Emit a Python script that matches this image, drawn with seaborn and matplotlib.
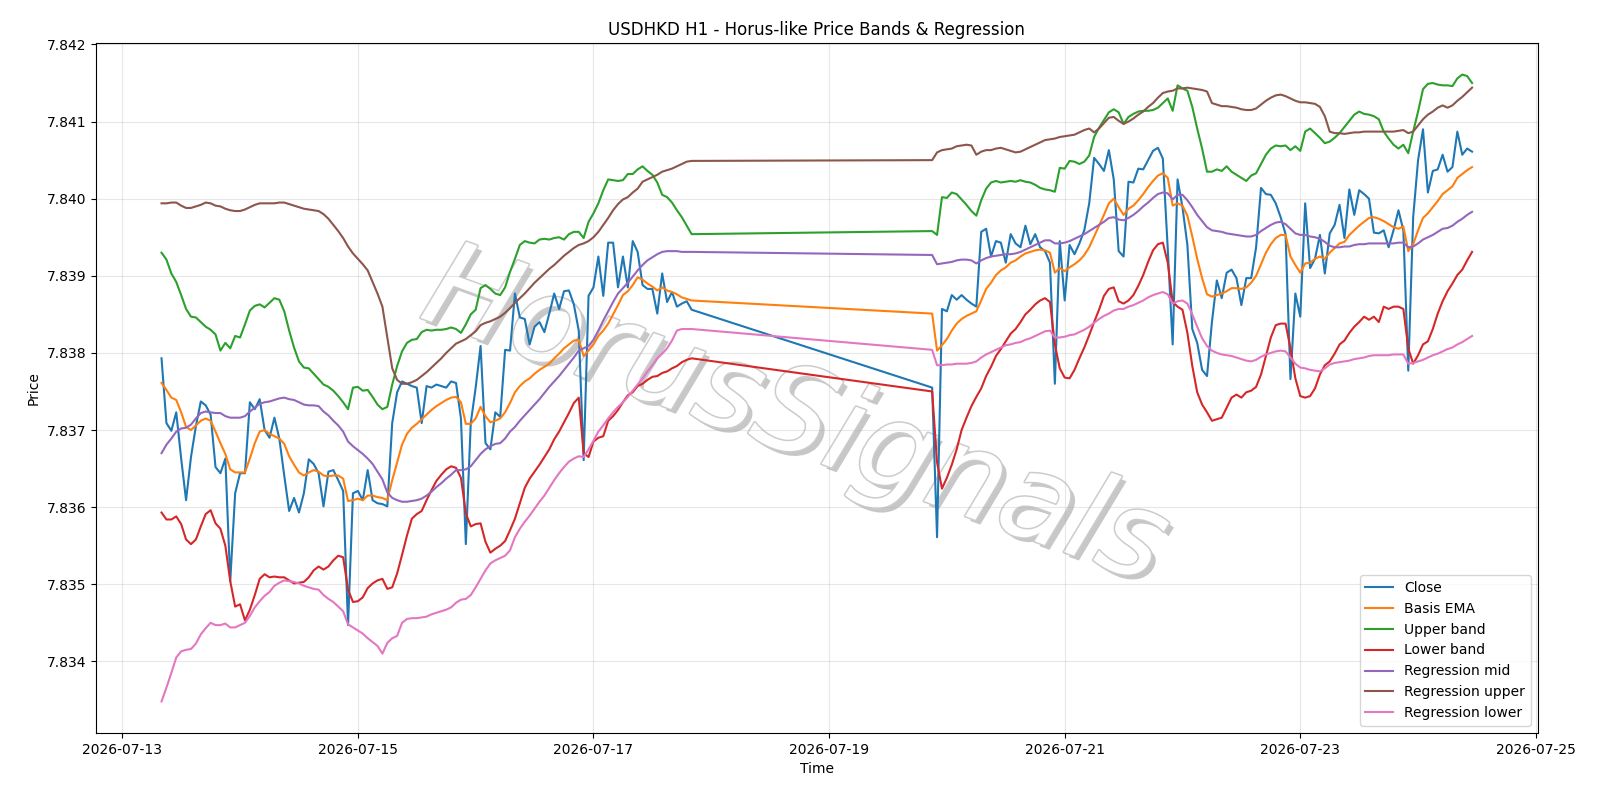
import numpy as np
import pandas as pd
import matplotlib
matplotlib.use("Agg")
import matplotlib.pyplot as plt
import matplotlib.dates as mdates
import matplotlib.ticker as mticker
import matplotlib.patheffects as pe
import seaborn as sns

# ---- data (hourly, two trading weeks) ----
week1_start = "2026-07-13 08:00"
week2_start = "2026-07-19 21:00"

close_w1 = [
    7.83793, 7.83709, 7.83699, 7.83723, 7.83663, 7.83609, 7.83665, 7.83705, 7.83737, 7.83732,
    7.83720, 7.83652, 7.83644, 7.83663, 7.83504, 7.83618, 7.83644, 7.83644, 7.83736, 7.83727,
    7.83740, 7.83700, 7.83690, 7.83716, 7.83689, 7.83641, 7.83595, 7.83612, 7.83593, 7.83618,
    7.83662, 7.83656, 7.83644, 7.83601, 7.83646, 7.83648, 7.83635, 7.83621, 7.83447, 7.83618,
    7.83621, 7.83609, 7.83648, 7.83609, 7.83605, 7.83604, 7.83601, 7.83709, 7.83749, 7.83763,
    7.83760, 7.83757, 7.83755, 7.83709, 7.83757, 7.83755, 7.83759, 7.83757, 7.83755, 7.83763,
    7.83761, 7.83715, 7.83552, 7.83709, 7.83755, 7.83809, 7.83683, 7.83675, 7.83723, 7.83717,
    7.83804, 7.83803, 7.83877, 7.83846, 7.83844, 7.83811, 7.83834, 7.83840, 7.83827, 7.83851,
    7.83877, 7.83857, 7.83880, 7.83881, 7.83863, 7.83829, 7.83661, 7.83874, 7.83885, 7.83925,
    7.83874, 7.83943, 7.83943, 7.83885, 7.83925, 7.83885, 7.83945, 7.83931, 7.83888, 7.83883,
    7.83883, 7.83851, 7.83903, 7.83866, 7.83879, 7.83860, 7.83864, 7.83867, 7.83856]
close_w2 = [
    7.83755, 7.83561, 7.83857, 7.83854, 7.83875, 7.83869, 7.83875, 7.83869, 7.83864, 7.83860,
    7.83957, 7.83961, 7.83925, 7.83945, 7.83943, 7.83917, 7.83954, 7.83942, 7.83937, 7.83965,
    7.83941, 7.83954, 7.83937, 7.83932, 7.83917, 7.83760, 7.83945, 7.83868, 7.83940, 7.83928,
    7.83942, 7.83959, 7.83994, 7.84053, 7.84045, 7.84036, 7.84063, 7.84025, 7.83932, 7.83925,
    7.84022, 7.84021, 7.84039, 7.84038, 7.84050, 7.84062, 7.84066, 7.84052, 7.83935, 7.83811,
    7.84025, 7.83989, 7.83940, 7.83831, 7.83813, 7.83778, 7.83770, 7.83840, 7.83894, 7.83871,
    7.83904, 7.83908, 7.83897, 7.83862, 7.83897, 7.83897, 7.83937, 7.84014, 7.84006, 7.84005,
    7.83994, 7.83976, 7.83954, 7.83766, 7.83877, 7.83847, 7.83994, 7.83910, 7.83922, 7.83953,
    7.83903, 7.83955, 7.83966, 7.83992, 7.83949, 7.84012, 7.83979, 7.84011, 7.84006, 7.84000,
    7.83956, 7.83955, 7.83959, 7.83937, 7.83959, 7.83985, 7.83959, 7.83777, 7.83976, 7.84050,
    7.84090, 7.84008, 7.84036, 7.84038, 7.84057, 7.84035, 7.84041, 7.84087, 7.84057, 7.84065, 7.84061]

basis_w1 = [
    7.83761, 7.83752, 7.83742, 7.83739, 7.83723, 7.83704, 7.83700, 7.83706, 7.83712, 7.83715,
    7.83712, 7.83698, 7.83683, 7.83669, 7.83649, 7.83645, 7.83645, 7.83645, 7.83663, 7.83683,
    7.83698, 7.83700, 7.83695, 7.83692, 7.83689, 7.83682, 7.83666, 7.83655, 7.83645, 7.83641,
    7.83645, 7.83648, 7.83646, 7.83641, 7.83640, 7.83641, 7.83641, 7.83637, 7.83608, 7.83609,
    7.83611, 7.83609, 7.83615, 7.83615, 7.83613, 7.83612, 7.83609, 7.83635, 7.83658, 7.83681,
    7.83695, 7.83703, 7.83708, 7.83714, 7.83720, 7.83726, 7.83731, 7.83735, 7.83739, 7.83742,
    7.83743, 7.83736, 7.83708, 7.83708, 7.83715, 7.83730, 7.83718, 7.83710, 7.83712, 7.83715,
    7.83723, 7.83735, 7.83749, 7.83757, 7.83763, 7.83767, 7.83773, 7.83778, 7.83782, 7.83786,
    7.83793, 7.83799, 7.83806, 7.83811, 7.83816, 7.83817, 7.83796, 7.83803, 7.83811, 7.83822,
    7.83829, 7.83838, 7.83850, 7.83862, 7.83875, 7.83880, 7.83888, 7.83898, 7.83895, 7.83890,
    7.83886, 7.83881, 7.83885, 7.83881, 7.83879, 7.83876, 7.83872, 7.83870, 7.83868]
basis_w2 = [
    7.83851, 7.83803, 7.83810, 7.83818, 7.83829, 7.83838, 7.83844, 7.83848, 7.83851, 7.83854,
    7.83868, 7.83883, 7.83891, 7.83901, 7.83907, 7.83911, 7.83917, 7.83920, 7.83925, 7.83929,
    7.83931, 7.83933, 7.83934, 7.83933, 7.83930, 7.83904, 7.83910, 7.83906, 7.83911, 7.83915,
    7.83920, 7.83927, 7.83937, 7.83951, 7.83965, 7.83979, 7.83994, 7.84000, 7.83989, 7.83979,
    7.83987, 7.83991, 7.83998, 7.84006, 7.84015, 7.84023, 7.84030, 7.84033, 7.84027, 7.83991,
    7.83994, 7.83991, 7.83978, 7.83951, 7.83922, 7.83897, 7.83876, 7.83873, 7.83875, 7.83877,
    7.83880, 7.83884, 7.83884, 7.83883, 7.83885, 7.83891, 7.83900, 7.83915, 7.83930, 7.83941,
    7.83949, 7.83953, 7.83953, 7.83925, 7.83914, 7.83904, 7.83916, 7.83917, 7.83922, 7.83925,
    7.83922, 7.83930, 7.83936, 7.83942, 7.83944, 7.83953, 7.83959, 7.83965, 7.83970, 7.83975,
    7.83976, 7.83974, 7.83971, 7.83967, 7.83963, 7.83961, 7.83964, 7.83932, 7.83941, 7.83959,
    7.83975, 7.83981, 7.83989, 7.83997, 7.84006, 7.84011, 7.84016, 7.84027, 7.84032, 7.84037, 7.84041]

upper_w1 = [
    7.83930, 7.83921, 7.83903, 7.83892, 7.83875, 7.83857, 7.83847, 7.83846, 7.83840, 7.83834,
    7.83830, 7.83824, 7.83803, 7.83813, 7.83806, 7.83822, 7.83820, 7.83837, 7.83855, 7.83861,
    7.83863, 7.83859, 7.83865, 7.83871, 7.83869, 7.83854, 7.83829, 7.83807, 7.83789, 7.83781,
    7.83780, 7.83773, 7.83766, 7.83759, 7.83756, 7.83751, 7.83744, 7.83736, 7.83727, 7.83755,
    7.83756, 7.83751, 7.83752, 7.83743, 7.83733, 7.83727, 7.83730, 7.83759, 7.83783, 7.83802,
    7.83813, 7.83817, 7.83818, 7.83827, 7.83830, 7.83829, 7.83830, 7.83830, 7.83831, 7.83833,
    7.83831, 7.83826, 7.83837, 7.83850, 7.83856, 7.83884, 7.83888, 7.83883, 7.83877, 7.83875,
    7.83885, 7.83905, 7.83922, 7.83940, 7.83945, 7.83943, 7.83942, 7.83947, 7.83948, 7.83947,
    7.83949, 7.83950, 7.83947, 7.83954, 7.83957, 7.83957, 7.83949, 7.83970, 7.83981, 7.83994,
    7.84011, 7.84025, 7.84024, 7.84023, 7.84024, 7.84032, 7.84032, 7.84038, 7.84042, 7.84036,
    7.84031, 7.84021, 7.84005, 7.84002, 7.83995, 7.83985, 7.83976, 7.83965, 7.83954]
upper_w2 = [
    7.83958, 7.83953, 7.84002, 7.84001, 7.84008, 7.84006, 7.83999, 7.83992, 7.83984, 7.83978,
    7.83998, 7.84013, 7.84021, 7.84023, 7.84021, 7.84022, 7.84023, 7.84022, 7.84024, 7.84022,
    7.84021, 7.84018, 7.84014, 7.84012, 7.84011, 7.84009, 7.84040, 7.84039, 7.84049, 7.84048,
    7.84045, 7.84048, 7.84056, 7.84080, 7.84092, 7.84102, 7.84112, 7.84116, 7.84112, 7.84097,
    7.84106, 7.84110, 7.84113, 7.84114, 7.84114, 7.84115, 7.84118, 7.84124, 7.84130, 7.84114,
    7.84147, 7.84143, 7.84140, 7.84119, 7.84091, 7.84065, 7.84035, 7.84035, 7.84038, 7.84036,
    7.84042, 7.84035, 7.84031, 7.84027, 7.84023, 7.84030, 7.84033, 7.84045, 7.84057, 7.84065,
    7.84069, 7.84068, 7.84069, 7.84063, 7.84068, 7.84062, 7.84087, 7.84091, 7.84085, 7.84079,
    7.84072, 7.84074, 7.84079, 7.84085, 7.84093, 7.84101, 7.84109, 7.84113, 7.84110, 7.84109,
    7.84107, 7.84103, 7.84087, 7.84078, 7.84070, 7.84065, 7.84070, 7.84059, 7.84087, 7.84113,
    7.84142, 7.84149, 7.84150, 7.84148, 7.84147, 7.84147, 7.84146, 7.84156, 7.84161, 7.84159, 7.84150]

lower_w1 = [
    7.83593, 7.83584, 7.83584, 7.83588, 7.83578, 7.83558, 7.83552, 7.83558, 7.83575, 7.83591,
    7.83596, 7.83579, 7.83572, 7.83550, 7.83504, 7.83471, 7.83474, 7.83453, 7.83467, 7.83486,
    7.83507, 7.83513, 7.83509, 7.83510, 7.83509, 7.83509, 7.83505, 7.83501, 7.83502, 7.83503,
    7.83509, 7.83518, 7.83523, 7.83519, 7.83523, 7.83531, 7.83537, 7.83535, 7.83493, 7.83477,
    7.83478, 7.83483, 7.83495, 7.83501, 7.83505, 7.83507, 7.83494, 7.83496, 7.83514, 7.83538,
    7.83563, 7.83585, 7.83591, 7.83595, 7.83609, 7.83622, 7.83634, 7.83642, 7.83649, 7.83653,
    7.83651, 7.83638, 7.83592, 7.83575, 7.83578, 7.83579, 7.83555, 7.83541, 7.83546, 7.83550,
    7.83556, 7.83570, 7.83585, 7.83605, 7.83625, 7.83637, 7.83646, 7.83655, 7.83665, 7.83675,
    7.83688, 7.83698, 7.83710, 7.83722, 7.83735, 7.83742, 7.83670, 7.83665, 7.83685, 7.83690,
    7.83692, 7.83712, 7.83718, 7.83726, 7.83736, 7.83745, 7.83749, 7.83757, 7.83760, 7.83765,
    7.83769, 7.83770, 7.83774, 7.83776, 7.83780, 7.83783, 7.83788, 7.83791, 7.83793]
lower_w2 = [
    7.83750, 7.83658, 7.83624, 7.83638, 7.83655, 7.83675, 7.83700, 7.83716, 7.83731, 7.83743,
    7.83754, 7.83770, 7.83782, 7.83796, 7.83805, 7.83815, 7.83825, 7.83831, 7.83840, 7.83850,
    7.83856, 7.83863, 7.83868, 7.83871, 7.83866, 7.83811, 7.83780, 7.83768, 7.83767, 7.83778,
    7.83793, 7.83807, 7.83823, 7.83840, 7.83856, 7.83874, 7.83883, 7.83885, 7.83867, 7.83864,
    7.83868, 7.83875, 7.83887, 7.83901, 7.83918, 7.83933, 7.83941, 7.83943, 7.83917, 7.83866,
    7.83860, 7.83856, 7.83826, 7.83783, 7.83749, 7.83733, 7.83723, 7.83712, 7.83714, 7.83716,
    7.83729, 7.83742, 7.83746, 7.83742, 7.83749, 7.83751, 7.83756, 7.83772, 7.83796, 7.83820,
    7.83836, 7.83838, 7.83838, 7.83806, 7.83767, 7.83744, 7.83742, 7.83744, 7.83754, 7.83772,
    7.83784, 7.83789, 7.83799, 7.83811, 7.83816, 7.83826, 7.83834, 7.83840, 7.83847, 7.83843,
    7.83847, 7.83840, 7.83860, 7.83857, 7.83860, 7.83860, 7.83857, 7.83806, 7.83786, 7.83797,
    7.83811, 7.83815, 7.83831, 7.83851, 7.83867, 7.83880, 7.83890, 7.83901, 7.83908, 7.83920, 7.83931]

regmid_w1 = [
    7.83670, 7.83681, 7.83689, 7.83698, 7.83702, 7.83703, 7.83707, 7.83715, 7.83722, 7.83724,
    7.83723, 7.83722, 7.83722, 7.83718, 7.83716, 7.83716, 7.83716, 7.83718, 7.83724, 7.83729,
    7.83734, 7.83736, 7.83737, 7.83739, 7.83741, 7.83742, 7.83740, 7.83739, 7.83736, 7.83733,
    7.83732, 7.83732, 7.83731, 7.83724, 7.83719, 7.83712, 7.83706, 7.83698, 7.83685, 7.83679,
    7.83674, 7.83669, 7.83663, 7.83656, 7.83646, 7.83636, 7.83619, 7.83612, 7.83609, 7.83607,
    7.83607, 7.83608, 7.83609, 7.83611, 7.83615, 7.83620, 7.83626, 7.83631, 7.83637, 7.83642,
    7.83648, 7.83648, 7.83649, 7.83653, 7.83661, 7.83669, 7.83675, 7.83679, 7.83682, 7.83683,
    7.83689, 7.83698, 7.83704, 7.83712, 7.83719, 7.83726, 7.83733, 7.83740, 7.83748, 7.83756,
    7.83763, 7.83770, 7.83778, 7.83786, 7.83794, 7.83803, 7.83806, 7.83809, 7.83817, 7.83829,
    7.83842, 7.83854, 7.83866, 7.83877, 7.83884, 7.83891, 7.83899, 7.83907, 7.83914, 7.83920,
    7.83924, 7.83928, 7.83931, 7.83932, 7.83932, 7.83932, 7.83931, 7.83931, 7.83931]
regmid_w2 = [
    7.83927, 7.83915, 7.83916, 7.83917, 7.83918, 7.83920, 7.83921, 7.83921, 7.83920, 7.83916,
    7.83920, 7.83923, 7.83925, 7.83926, 7.83927, 7.83928, 7.83928, 7.83929, 7.83931, 7.83934,
    7.83937, 7.83940, 7.83943, 7.83946, 7.83946, 7.83942, 7.83942, 7.83943, 7.83945, 7.83948,
    7.83951, 7.83954, 7.83958, 7.83962, 7.83966, 7.83970, 7.83975, 7.83976, 7.83973, 7.83972,
    7.83975, 7.83979, 7.83984, 7.83990, 7.83995, 7.84001, 7.84006, 7.84008, 7.84007, 7.83999,
    7.84005, 7.84005, 7.83998, 7.83989, 7.83979, 7.83971, 7.83963, 7.83959, 7.83958, 7.83957,
    7.83955, 7.83954, 7.83953, 7.83952, 7.83951, 7.83951, 7.83953, 7.83958, 7.83962, 7.83966,
    7.83969, 7.83970, 7.83967, 7.83961, 7.83955, 7.83953, 7.83953, 7.83951, 7.83950, 7.83948,
    7.83944, 7.83939, 7.83937, 7.83937, 7.83938, 7.83938, 7.83940, 7.83941, 7.83941, 7.83942,
    7.83942, 7.83942, 7.83942, 7.83942, 7.83942, 7.83943, 7.83943, 7.83937, 7.83938, 7.83942,
    7.83947, 7.83950, 7.83953, 7.83957, 7.83961, 7.83962, 7.83965, 7.83970, 7.83974, 7.83979, 7.83983]

regup_w1 = [
    7.83994, 7.83994, 7.83995, 7.83995, 7.83991, 7.83988, 7.83988, 7.83990, 7.83992, 7.83995,
    7.83994, 7.83991, 7.83990, 7.83987, 7.83985, 7.83984, 7.83984, 7.83986, 7.83989, 7.83992,
    7.83994, 7.83994, 7.83994, 7.83994, 7.83995, 7.83995, 7.83993, 7.83991, 7.83989, 7.83987,
    7.83986, 7.83985, 7.83984, 7.83980, 7.83974, 7.83966, 7.83958, 7.83949, 7.83938, 7.83929,
    7.83922, 7.83915, 7.83907, 7.83892, 7.83877, 7.83860, 7.83820, 7.83780, 7.83765, 7.83760,
    7.83760, 7.83762, 7.83765, 7.83770, 7.83775, 7.83781, 7.83787, 7.83793, 7.83800, 7.83806,
    7.83812, 7.83815, 7.83818, 7.83823, 7.83828, 7.83836, 7.83839, 7.83841, 7.83844, 7.83847,
    7.83852, 7.83858, 7.83865, 7.83871, 7.83877, 7.83884, 7.83891, 7.83897, 7.83903, 7.83909,
    7.83914, 7.83920, 7.83926, 7.83931, 7.83936, 7.83940, 7.83942, 7.83945, 7.83950, 7.83957,
    7.83966, 7.83975, 7.83985, 7.83993, 7.83999, 7.84002, 7.84008, 7.84013, 7.84022, 7.84025,
    7.84028, 7.84031, 7.84035, 7.84037, 7.84039, 7.84042, 7.84045, 7.84048, 7.84049]
regup_w2 = [
    7.84050, 7.84060, 7.84063, 7.84064, 7.84065, 7.84068, 7.84069, 7.84070, 7.84069, 7.84057,
    7.84061, 7.84063, 7.84063, 7.84065, 7.84066, 7.84064, 7.84062, 7.84060, 7.84061, 7.84064,
    7.84067, 7.84070, 7.84073, 7.84076, 7.84077, 7.84078, 7.84080, 7.84081, 7.84082, 7.84083,
    7.84086, 7.84089, 7.84091, 7.84086, 7.84091, 7.84098, 7.84105, 7.84106, 7.84101, 7.84097,
    7.84100, 7.84104, 7.84109, 7.84113, 7.84119, 7.84124, 7.84131, 7.84137, 7.84139, 7.84140,
    7.84143, 7.84143, 7.84144, 7.84143, 7.84142, 7.84141, 7.84139, 7.84124, 7.84122, 7.84120,
    7.84120, 7.84119, 7.84118, 7.84116, 7.84115, 7.84115, 7.84117, 7.84122, 7.84127, 7.84131,
    7.84134, 7.84135, 7.84133, 7.84130, 7.84127, 7.84125, 7.84125, 7.84124, 7.84123, 7.84119,
    7.84107, 7.84087, 7.84085, 7.84085, 7.84084, 7.84085, 7.84086, 7.84086, 7.84087, 7.84087,
    7.84087, 7.84087, 7.84087, 7.84087, 7.84087, 7.84088, 7.84089, 7.84085, 7.84087, 7.84095,
    7.84103, 7.84109, 7.84113, 7.84118, 7.84121, 7.84118, 7.84121, 7.84127, 7.84132, 7.84138, 7.84144]

reglo_w1 = [
    7.83348, 7.83366, 7.83385, 7.83405, 7.83413, 7.83415, 7.83416, 7.83423, 7.83435, 7.83443,
    7.83450, 7.83447, 7.83447, 7.83449, 7.83444, 7.83444, 7.83447, 7.83450, 7.83459, 7.83470,
    7.83478, 7.83485, 7.83490, 7.83498, 7.83502, 7.83505, 7.83504, 7.83503, 7.83501, 7.83498,
    7.83496, 7.83494, 7.83493, 7.83486, 7.83481, 7.83477, 7.83471, 7.83465, 7.83448, 7.83444,
    7.83440, 7.83436, 7.83430, 7.83425, 7.83420, 7.83410, 7.83424, 7.83430, 7.83433, 7.83450,
    7.83455, 7.83456, 7.83456, 7.83457, 7.83458, 7.83461, 7.83463, 7.83465, 7.83467, 7.83470,
    7.83476, 7.83480, 7.83481, 7.83486, 7.83496, 7.83507, 7.83518, 7.83527, 7.83531, 7.83534,
    7.83537, 7.83544, 7.83561, 7.83572, 7.83581, 7.83589, 7.83598, 7.83607, 7.83615, 7.83625,
    7.83635, 7.83644, 7.83652, 7.83659, 7.83663, 7.83666, 7.83665, 7.83675, 7.83686, 7.83698,
    7.83706, 7.83715, 7.83723, 7.83730, 7.83736, 7.83743, 7.83751, 7.83759, 7.83767, 7.83776,
    7.83784, 7.83793, 7.83799, 7.83806, 7.83816, 7.83829, 7.83831, 7.83831, 7.83831]
reglo_w2 = [
    7.83804, 7.83784, 7.83784, 7.83785, 7.83785, 7.83786, 7.83786, 7.83786, 7.83787, 7.83789,
    7.83794, 7.83798, 7.83801, 7.83804, 7.83807, 7.83810, 7.83811, 7.83813, 7.83814, 7.83817,
    7.83819, 7.83822, 7.83825, 7.83828, 7.83829, 7.83820, 7.83820, 7.83821, 7.83823, 7.83824,
    7.83827, 7.83830, 7.83834, 7.83839, 7.83844, 7.83848, 7.83851, 7.83855, 7.83857, 7.83857,
    7.83860, 7.83862, 7.83865, 7.83868, 7.83872, 7.83875, 7.83877, 7.83879, 7.83876, 7.83864,
    7.83867, 7.83868, 7.83864, 7.83850, 7.83834, 7.83819, 7.83809, 7.83803, 7.83800, 7.83798,
    7.83797, 7.83796, 7.83794, 7.83792, 7.83790, 7.83789, 7.83791, 7.83795, 7.83798, 7.83800,
    7.83802, 7.83803, 7.83802, 7.83794, 7.83786, 7.83781, 7.83780, 7.83778, 7.83777, 7.83776,
    7.83780, 7.83785, 7.83787, 7.83788, 7.83789, 7.83790, 7.83792, 7.83793, 7.83794, 7.83796,
    7.83797, 7.83797, 7.83797, 7.83797, 7.83798, 7.83798, 7.83798, 7.83786, 7.83787, 7.83789,
    7.83791, 7.83794, 7.83797, 7.83799, 7.83802, 7.83805, 7.83807, 7.83811, 7.83814, 7.83818, 7.83822]

series_names = ["Close", "Basis EMA", "Upper band", "Lower band",
                "Regression mid", "Regression upper", "Regression lower"]
series_w1 = [close_w1, basis_w1, upper_w1, lower_w1, regmid_w1, regup_w1, reglo_w1]
series_w2 = [close_w2, basis_w2, upper_w2, lower_w2, regmid_w2, regup_w2, reglo_w2]
watermark_text = "HorusSignals"

# ---- build table ----
t1 = pd.date_range(week1_start, periods=len(close_w1), freq="h")
t2 = pd.date_range(week2_start, periods=len(close_w2), freq="h")
times = t1.append(t2)
df = pd.DataFrame({"Time": times})
for name, a, b in zip(series_names, series_w1, series_w2):
    n1, n2 = len(t1), len(t2)
    vals = (list(a) + [np.nan] * n1)[:n1] + (list(b) + [np.nan] * n2)[:n2]
    df[name] = vals

# ---- plot ----
fig, ax = plt.subplots(figsize=(16, 8), dpi=100)
fig.subplots_adjust(left=0.06, right=0.961, top=0.946, bottom=0.084)
colors = sns.color_palette("tab10", 10)

for i, name in enumerate(series_names):
    sub = df[["Time", name]].dropna()
    sns.lineplot(x=sub["Time"], y=sub[name], ax=ax, label=name,
                 color=colors[i], linewidth=1.5, estimator=None, sort=False)

ax.set_title("USDHKD H1 - Horus-like Price Bands & Regression", fontsize=12)
ax.set_xlabel("Time")
ax.set_ylabel("Price")
ax.grid(True, alpha=0.3)
ax.yaxis.set_major_locator(mticker.MultipleLocator(0.001))
ax.yaxis.set_major_formatter(mticker.FormatStrFormatter("%.3f"))
ax.xaxis.set_major_locator(mdates.DayLocator(bymonthday=range(1, 32, 2)))
ax.xaxis.set_major_formatter(mdates.DateFormatter("%Y-%m-%d"))
ax.legend(loc="lower right")

# watermark: hollow-looking light text with a soft drop shadow
ax.text(0.485, 0.455, watermark_text, transform=ax.transAxes, fontsize=86,
        fontstyle="italic", color="white", rotation=-20,
        ha="center", va="center", zorder=1,
        path_effects=[
            pe.withSimplePatchShadow(offset=(3.5, -3.5), shadow_rgbFace=(0.6, 0.6, 0.6), alpha=0.55),
            pe.withStroke(linewidth=2.2, foreground=(0.8, 0.8, 0.8)),
        ])

fig.savefig("out.png", dpi=100)
